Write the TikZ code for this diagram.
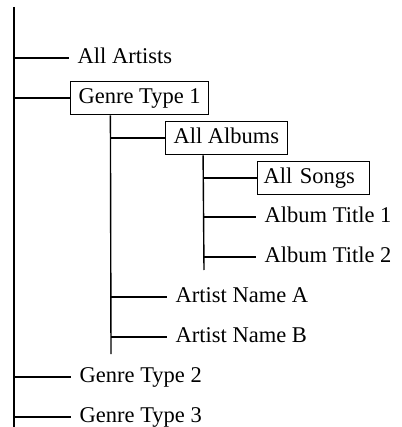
\documentclass[tikz,border=0pt]{standalone}
\usepackage{fontspec}
\setmainfont{Liberation Serif}
\usetikzlibrary{positioning,calc}

\begin{document}
\begin{tikzpicture}[x=1pt, y=-1pt, line width=1.4pt,
    leaf_node/.style={anchor=west, inner xsep=8pt, inner ysep=6.5pt, text height=15.5pt, text depth=5pt, font=\fontsize{22.5}{27}\selectfont},
    box_node/.style={leaf_node, draw, line width=1.2pt}]
    \useasboundingbox (0,0) rectangle (401,427);
    \coordinate (top) at (14,7);
    \coordinate (bottom) at (14,427);
    \draw (top) -- (bottom);

    \node[leaf_node] (artists) at (69,58) {All Artists};
    \node[box_node] (genre1) at (70,98) {Genre Type 1};
    \node[box_node] (albums) at (165,138) {All Albums};
    \node[box_node, inner xsep=6pt, text width=100pt, align=left] (songs) at (257,178) {All Songs};
    \node[leaf_node] (title1) at (256,217) {Album Title 1};
    \node[leaf_node] (title2) at (256,257) {Album Title 2};
    \node[leaf_node] (nameA) at (167,297) {Artist Name A};
    \node[leaf_node] (nameB) at (167,337) {Artist Name B};
    \node[leaf_node] (genre2) at (71,377) {Genre Type 2};
    \node[leaf_node] (genre3) at (71,417) {Genre Type 3};

    \coordinate (genre1end) at (111,354);
    \coordinate (albumsend) at (204,270);
    \draw ($(genre1.south west)!0.29!(genre1.south east)$) -- (genre1end);
    \draw ($(albums.south west)!0.31!(albums.south east)$) -- (albumsend);

    \foreach \n in {artists, genre1, genre2, genre3}
        \draw (\n.west -| top) -- (\n.west);
    \foreach \n in {albums, nameA, nameB}
        \draw (\n.west -| genre1end) -- (\n.west);
    \foreach \n in {songs, title1, title2}
        \draw (\n.west -| albumsend) -- (\n.west);
\end{tikzpicture}
\end{document}
